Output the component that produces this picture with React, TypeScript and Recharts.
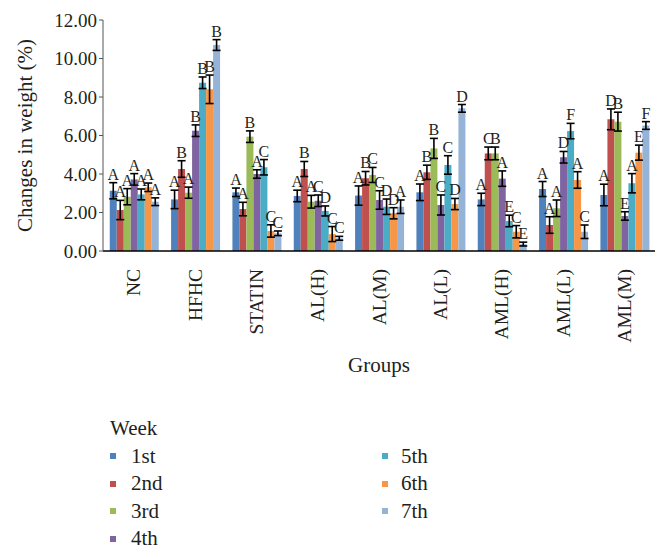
import React from 'react';
import { BarChart, Bar, XAxis, YAxis, ErrorBar, LabelList } from 'recharts';

const groups = ['NC', 'HFHC', 'STATIN', 'AL(H)', 'AL(M)', 'AL(L)', 'AML(H)', 'AML(L)', 'AML(M)'];
const weeks = ['1st', '2nd', '3rd', '4th', '5th', '6th', '7th'];
const COLORS = ['#4F81BD', '#C0504D', '#9BBB59', '#8064A2', '#4BACC6', '#F79646', '#95B3D7'];

// mean change per week, one list per group
const NC = [3.13, 2.13, 2.82, 3.72, 2.94, 3.31, 2.56];
const HFHC = [2.68, 4.26, 3.03, 6.25, 8.74, 8.4, 10.7];
const STATIN = [3.05, 2.18, 5.94, 4.0, 4.35, 1.04, 0.92];
const ALH = [2.86, 4.26, 2.56, 2.61, 2.08, 0.88, 0.66];
const ALM = [2.88, 3.78, 3.95, 2.65, 2.3, 1.96, 2.3];
const ALL = [3.05, 4.09, 5.33, 2.39, 4.47, 2.44, 7.41];
const AMLH = [2.68, 5.07, 5.07, 3.76, 1.56, 1.0, 0.36];
const AMLL = [3.22, 1.35, 2.22, 4.87, 6.23, 3.69, 1.0];
const AMLM = [2.91, 6.84, 6.72, 1.82, 3.52, 5.11, 6.52];

// error (+/-) per week
const errNC = [0.42, 0.5, 0.42, 0.3, 0.28, 0.22, 0.2];
const errHFHC = [0.48, 0.43, 0.29, 0.3, 0.3, 0.74, 0.28];
const errSTATIN = [0.22, 0.35, 0.3, 0.22, 0.4, 0.32, 0.12];
const errALH = [0.3, 0.39, 0.33, 0.3, 0.26, 0.39, 0.1];
const errALM = [0.5, 0.35, 0.39, 0.48, 0.4, 0.29, 0.35];
const errALL = [0.43, 0.37, 0.52, 0.52, 0.48, 0.29, 0.2];
const errAMLH = [0.32, 0.33, 0.33, 0.4, 0.3, 0.32, 0.1];
const errAMLL = [0.39, 0.43, 0.43, 0.3, 0.4, 0.43, 0.35];
const errAMLM = [0.56, 0.54, 0.49, 0.22, 0.5, 0.39, 0.2];

// significance letters per week
const letNC = ['A', 'A', 'A', 'A', 'A', 'A', 'A'];
const letHFHC = ['A', 'B', 'A', 'B', 'B', 'B', 'B'];
const letSTATIN = ['A', 'A', 'B', 'A', 'C', 'C', 'C'];
const letALH = ['A', 'B', 'A', 'C', 'D', 'C', 'C'];
const letALM = ['A', 'B', 'C', 'C', 'D', 'D', 'A'];
const letALL = ['A', 'B', 'B', 'C', 'C', 'D', 'D'];
const letAMLH = ['A', 'C', 'B', 'A', 'E', 'C', 'E'];
const letAMLL = ['A', 'A', 'A', 'D', 'F', 'A', 'C'];
const letAMLM = ['A', 'D', 'B', 'E', 'A', 'E', 'F'];

const values = [NC, HFHC, STATIN, ALH, ALM, ALL, AMLH, AMLL, AMLM];
const errors = [errNC, errHFHC, errSTATIN, errALH, errALM, errALL, errAMLH, errAMLL, errAMLM];
const letters = [letNC, letHFHC, letSTATIN, letALH, letALM, letALL, letAMLH, letAMLL, letAMLM];

const yTicks = [0, 2, 4, 6, 8, 10, 12];

const FONT = 'Liberation Serif, Times New Roman, Times, Tinos, Noto Serif, DejaVu Serif, FreeSerif, serif';
const INK = '#231F20';

const data = groups.map((g, i) => {
  const row: any = { group: g };
  weeks.forEach((_, k) => {
    row['w' + k] = values[i][k];
    row['e' + k] = errors[i][k];
    row['l' + k] = letters[i][k];
  });
  return row;
});

const GroupTick = (props: any) => {
  const { x, y, payload } = props;
  return (
    <g transform={`translate(${x},${y + 10})`}>
      <text transform="rotate(-90)" textAnchor="end" dy="0.35em" fill={INK} fontSize={19.5} style={{ fontFamily: FONT }}>
        {payload.value}
      </text>
    </g>
  );
};

const letterContent = (k: number) => (p: any) => {
  const vb = p.viewBox || p;
  const idx = p.index;
  const v = values[idx][k];
  const e = errors[idx][k];
  const pxPerUnit = v ? Math.abs(vb.height) / v : 0;
  const top = vb.y - e * pxPerUnit;
  return (
    <text x={vb.x + vb.width / 2} y={top - 3} textAnchor="middle" fill={INK} fontSize={16} style={{ fontFamily: FONT }}>
      {p.value}
    </text>
  );
};

const App: React.FC = () => {
  return (
    <div style={{ position: 'absolute', left: 0, top: 0, width: 669, height: 557, background: '#fff', fontFamily: FONT }}>
      <BarChart
        width={669}
        height={380}
        data={data}
        margin={{ top: 20, right: 14, left: 0, bottom: 4 }}
        barCategoryGap="11%"
        barGap={0}
        style={{ fontFamily: FONT }}
      >
        <XAxis
          dataKey="group"
          interval={0}
          tickLine={false}
          axisLine={{ stroke: '#000', strokeWidth: 1.5 }}
          tick={<GroupTick />}
          height={125}
          label={{ value: 'Groups', position: 'insideBottom', offset: 4, fill: INK, fontSize: 21, style: { fontFamily: FONT } }}
        />
        <YAxis
          domain={[0, 12]}
          ticks={yTicks}
          interval={0}
          width={103}
          tickSize={4}
          tickMargin={2}
          tickFormatter={(v: number) => v.toFixed(2)}
          tick={{ fill: INK, fontSize: 19, style: { fontFamily: FONT } }}
          axisLine={{ stroke: '#555' }}
          tickLine={{ stroke: '#555' }}
          label={{
            value: 'Changes in weight (%)',
            angle: -90,
            position: 'insideLeft',
            offset: 25,
            fill: INK,
            fontSize: 21,
            style: { textAnchor: 'middle', fontFamily: FONT },
          }}
        />
        {weeks.map((w, k) => (
          <Bar key={w} dataKey={'w' + k} name={w} fill={COLORS[k]} isAnimationActive={false}>
            <ErrorBar dataKey={'e' + k} width={4} stroke="#000" strokeWidth={1.6} />
            <LabelList dataKey={'l' + k} content={letterContent(k)} />
          </Bar>
        ))}
      </BarChart>

      <div style={{ position: 'absolute', left: 110, top: 415, fontSize: 21, color: INK, lineHeight: '26px' }}>Week</div>
      {weeks.map((w, k) => {
        const col = k < 4 ? 0 : 1;
        const row = k < 4 ? k : k - 4;
        const left = col === 0 ? 110 : 382;
        const cy = 456 + row * 27.5;
        return (
          <div key={w} style={{ position: 'absolute', left, top: cy - 13, height: 26, display: 'flex', alignItems: 'center' }}>
            <span style={{ display: 'inline-block', width: 6, height: 6, background: COLORS[k], marginRight: col === 0 ? 15 : 13 }} />
            <span style={{ fontSize: 21, color: INK }}>{w}</span>
          </div>
        );
      })}
    </div>
  );
};

export default App;
